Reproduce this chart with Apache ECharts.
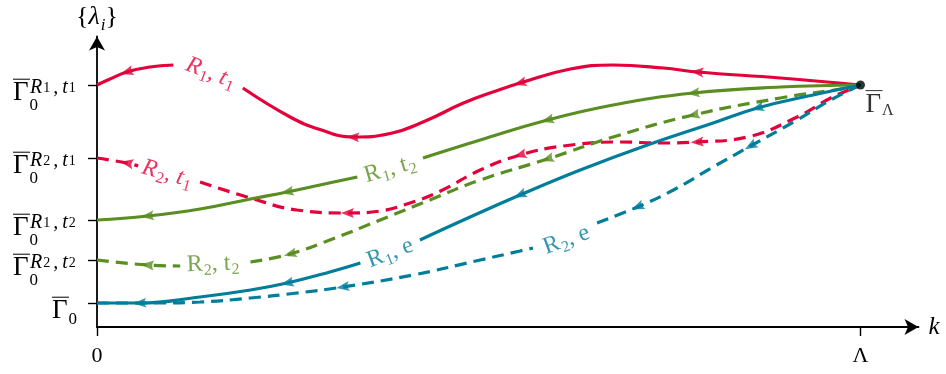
<!DOCTYPE html>
<html>
<head>
<meta charset="utf-8">
<script src="https://cdn.jsdelivr.net/npm/echarts@6/dist/echarts.min.js"></script>
<style>
  html, body { margin: 0; padding: 0; background: #fff; }
  #chart { width: 946px; height: 374px; }
</style>
</head>
<body>
<div id="chart"></div>
<script>
// RG flow of the couplings {λ_i} from the UV point Γ̄_Λ (k = Λ) down to k = 0.
// k is measured in units with Λ = 10; couplings in arbitrary units.
// A null entry leaves room on the curve for its name.

const kTicks = [0, 10];
const kTickLabels = ['0', 'Λ'];
const kMax = 10.76;
const couplingMax = 29.05;

const couplingTicks = [2.4, 6.7, 10.7, 16.9, 24.2];
const couplingTickSup = ['', 'R_2,t_2', 'R_1,t_2', 'R_2,t_1', 'R_1,t_1'];

const uvPoint = [10, 24.2];

// Trajectories, listed from k = 0 to k = Λ
const flowR1t1 = [[0,24.2],[0.17,24.8],[0.39,25.5],[0.69,26.0],[1.00,26.2],null,
  [1.91,23.9],[2.53,21.0],[2.92,19.75],[3.35,19.0],[3.84,19.35],[4.30,20.6],[4.80,22.4],[5.30,23.8],
  [5.54,24.4],[6.20,25.8],[6.76,26.2],[7.42,25.9],[7.86,25.5],[8.95,24.9],[10,24.2]];
const flowR2t1 = [[0,16.9],[0.39,16.4],[0.54,16.1],null,[1.35,14.5],[2.01,12.9],[2.62,11.7],
  [3.28,11.4],[3.71,11.6],[4.10,12.4],[4.50,13.6],[5.02,15.7],[5.54,17.2],[6.11,18.1],[6.85,18.5],
  [7.38,18.4],[7.86,18.5],[8.52,19.0],[9.17,21.0],[9.61,22.9],[9.91,23.9],[10,24.2]];
const flowR1t2 = [[0,10.7],[0.66,11.1],[1.35,11.8],[2.01,12.8],[2.49,13.5],[2.92,14.2],[3.41,15.0],
  null,[4.27,16.9],[5.02,18.7],[5.90,20.7],[6.76,22.2],[7.81,23.4],[8.95,24.0],[10,24.2]];
const flowR2t2 = [[0,6.7],[0.66,6.2],[1.09,6.1],null,[2.01,6.5],[2.53,7.3],[3.05,8.7],
  [3.71,10.7],[4.36,12.7],[5.02,14.7],[5.90,16.8],[6.76,19.0],[7.81,21.2],[8.95,22.9],[9.83,23.9],[10,24.2]];
const flowR1e = [[0,2.4],[0.56,2.4],[1.35,3.0],[2.01,3.7],[2.49,4.4],[3.05,5.5],[3.45,6.4],null,
  [4.23,8.7],[4.80,10.7],[5.54,13.2],[6.33,15.7],[7.21,18.2],[8.07,20.4],[8.65,21.9],[9.38,23.2],[10,24.2]];
const flowR2e = [[0,2.4],[0.69,2.4],[1.35,2.5],[2.01,2.9],[2.62,3.4],[3.22,4.0],[4.14,5.2],[5.02,6.7],
  [5.54,7.6],[5.71,7.9],null,[6.55,10.4],[7.08,12.0],[7.55,13.7],[8.07,16.0],[8.56,18.1],[9.17,20.7],
  [9.61,22.7],[10,24.2]];

// Indices of the points that carry a direction arrow
const arrowsR1t1 = [2, 9, 14, 18];
const arrowsR2t1 = [1, 7, 12, 16];
const arrowsR1t2 = [1, 4, 10, 12];
const arrowsR2t2 = [1, 5, 10, 12];
const arrowsR1e = [1, 4, 10, 14];
const arrowsR2e = [5, 12, 15];

const RED = '#E4003A';
const GREEN = '#5A8D22';
const BLUE = '#007D9B';
const FONT = '"Liberation Serif", "DejaVu Serif", serif';

const flows = [
  { name: 'R_1, t_1', data: flowR1t1, arrows: arrowsR1t1, color: RED,   dashed: false, tag: { at: [1.49, 25.4], rotate: -21, italic: true } },
  { name: 'R_2, t_1', data: flowR2t1, arrows: arrowsR2t1, color: RED,   dashed: true,  tag: { at: [0.92, 15.3], rotate: -16, italic: true } },
  { name: 'R_1, t_2', data: flowR1t2, arrows: arrowsR1t2, color: GREEN, dashed: false, tag: { at: [3.84, 15.8], rotate: 16,  italic: false } },
  { name: 'R_2, t_2', data: flowR2t2, arrows: arrowsR2t2, color: GREEN, dashed: true,  tag: { at: [1.52, 6.3],  rotate: 2,   italic: false } },
  { name: 'R_1, e',   data: flowR1e,  arrows: arrowsR1e,  color: BLUE,  dashed: false, tag: { at: [3.84, 7.4],  rotate: 21,  italic: false } },
  { name: 'R_2, e',   data: flowR2e,  arrows: arrowsR2e,  color: BLUE,  dashed: true,  tag: { at: [6.15, 8.7],  rotate: 20,  italic: false } }
];

// "R_1, t_1" -> {main|R}{sub|1}{main|, t}{sub|1}
function mathRich(str, main, sub) {
  return str.split(/_(\w)/).map((part, i) =>
    part === '' ? '' : '{' + (i % 2 ? sub : main) + '|' + part + '}').join('');
}

// Γ with an overline, drawn as a two-line rich label
const gammaRich = {
  ind:  { width: 39, lineHeight: 1, fontSize: 1 },
  bar:  { width: 17, lineHeight: 1.6, fontSize: 1, backgroundColor: '#000', verticalAlign: 'bottom' },
  sp:   { fontFamily: FONT, fontSize: 20, fontStyle: 'italic', lineHeight: 2.2, padding: [0, 1, 4, 0], verticalAlign: 'top', color: '#000' },
  spc:  { fontFamily: FONT, fontSize: 20, fontStyle: 'italic', lineHeight: 2.2, padding: [0, 4, 4, 1], verticalAlign: 'top', color: '#000' },
  sps:  { fontFamily: FONT, fontSize: 14, lineHeight: 2.2, padding: [4, 2, 0, 0], verticalAlign: 'top', color: '#000' },
  G:    { fontFamily: FONT, fontSize: 27, lineHeight: 18.4, verticalAlign: 'top', color: '#000' },
  sub:  { fontFamily: FONT, fontSize: 17, lineHeight: 10, padding: [17.2, 0, 0, 1], verticalAlign: 'top', color: '#000' },
  subP: { fontFamily: FONT, fontSize: 17, lineHeight: 10, padding: [13.2, 0, 11, 1], verticalAlign: 'top', color: '#000' },
  subL: { fontFamily: FONT, fontSize: 16, lineHeight: 10, padding: [11.2, 0, 0, 1], verticalAlign: 'top', color: '#000' }
};

function supRich(sup) {
  // the comma gets a little room on both sides
  return mathRich(sup, 'sp', 'sps').replace('{sp|,', '{spc|,}{sp|').replace('{sp|}', '');
}

function couplingLabel(v) {
  const i = couplingTicks.findIndex(t => Math.abs(t - v) < 1e-6);
  const sup = i >= 0 ? couplingTickSup[i] : '';
  if (sup) return '{bar| }' + supRich(sup) + '\n{G|Γ}{sub|0}';
  return '{ind| }{bar| }{sp| }\n{ind| }{G|Γ}{subP|0}';
}

const tagRich = {
  m:  { fontFamily: FONT, fontSize: 24, lineHeight: 24, verticalAlign: 'top' },
  mi: { fontFamily: FONT, fontSize: 24, fontStyle: 'italic', lineHeight: 24, verticalAlign: 'top' },
  s:  { fontFamily: FONT, fontSize: 16, lineHeight: 14, padding: [10.5, 0, 0, 1], verticalAlign: 'top' }
};

const ARROW = 'path://M5,0L10,13Q5,9.5 0,13Z';

const chart = echarts.init(document.getElementById('chart'), null, { renderer: 'canvas' });

const baseOption = {
  animation: false,
  backgroundColor: '#fff',
  grid: { left: 97, right: 27.5, top: 36.5, bottom: 47, containLabel: false, outerBoundsMode: 'none' },
  xAxis: {
    type: 'value', min: 0, max: kMax,
    name: 'k', nameLocation: 'end', nameGap: 10,
    nameTextStyle: { fontFamily: FONT, fontStyle: 'italic', fontSize: 25, color: '#000', padding: [4, 0, 0, 0] },
    axisLine: { show: true, onZero: true, symbol: ['none', 'arrow'], symbolSize: [12, 14], lineStyle: { color: '#000', width: 1.8 } },
    axisTick: { show: true, customValues: kTicks, length: 9, lineStyle: { color: '#000', width: 1.4 } },
    axisLabel: {
      show: true, customValues: kTicks, margin: 18,
      fontFamily: FONT, fontSize: 22, color: '#000',
      formatter: v => kTickLabels[kTicks.findIndex(t => Math.abs(t - v) < 1e-6)] || ''
    },
    splitLine: { show: false }
  },
  yAxis: {
    type: 'value', min: 0, max: couplingMax,
    name: '{{mi|λ}{s|i}}', nameLocation: 'end', nameGap: 6,
    nameTextStyle: {
      fontFamily: FONT, fontSize: 26, lineHeight: 26, color: '#000', align: 'center',
      rich: {
        mi: { fontFamily: FONT, fontSize: 26, fontStyle: 'italic', lineHeight: 26 },
        s:  { fontFamily: FONT, fontSize: 17, fontStyle: 'italic', lineHeight: 14, padding: [13, 0, 0, 1], verticalAlign: 'top' }
      }
    },
    axisLine: { show: true, onZero: true, symbol: ['none', 'arrow'], symbolSize: [12, 14], lineStyle: { color: '#000', width: 1.8 } },
    axisTick: { show: true, customValues: couplingTicks, length: 9, lineStyle: { color: '#000', width: 1.4 } },
    axisLabel: {
      show: true, customValues: couplingTicks, margin: 84, align: 'left',
      padding: [5.6, 0, 0, 0],
      formatter: couplingLabel, rich: gammaRich
    },
    splitLine: { show: false }
  },
  series: []
};

// Trajectory lines
flows.forEach(f => {
  baseOption.series.push({
    type: 'line', data: f.data, smooth: 0.45, connectNulls: false, symbol: 'none', silent: true, z: 3,
    lineStyle: { color: f.color, width: 3.2, type: f.dashed ? [12, 7] : 'solid', cap: 'butt' }
  });
});

// Trajectory names, written along the curves
flows.forEach(f => {
  baseOption.series.push({
    type: 'scatter', data: [f.tag.at], symbolSize: 0, silent: true, z: 5,
    label: {
      show: true, position: 'inside', rotate: f.tag.rotate, color: f.color,
      formatter: () => mathRich(f.name, f.tag.italic ? 'mi' : 'm', 's'),
      rich: tagRich
    }
  });
});

// UV starting point Γ̄_Λ
baseOption.series.push({
  type: 'scatter', data: [uvPoint], symbol: 'circle', symbolSize: 9, silent: true, z: 7,
  itemStyle: { color: '#000' },
  label: {
    show: true, position: [9.5, 8.4], align: 'left', verticalAlign: 'top',
    formatter: '{bar| }{sp| }\n{G|Γ}{subL|Λ}', rich: gammaRich
  }
});

chart.setOption(baseOption);

// Arrowheads point along the flow (towards k = 0), following the local tangent
const toPx = p => chart.convertToPixel({ gridIndex: 0 }, p);
const arrowSeries = flows.map(f => {
  const pick = j => f.data[j] || null;
  const items = f.arrows.map(i => {
    const a = toPx(pick(i - 1) || f.data[i]);
    const b = toPx(pick(i + 1) || f.data[i]);
    const ang = Math.atan2(-(a[1] - b[1]), a[0] - b[0]) * 180 / Math.PI;
    return { value: f.data[i], symbolRotate: ang - 90 };
  });
  return {
    type: 'scatter', data: items, symbol: ARROW, symbolSize: [10, 13], silent: true, z: 4,
    itemStyle: { color: f.color }
  };
});

chart.setOption({ series: baseOption.series.concat(arrowSeries) });
</script>
</body>
</html>
